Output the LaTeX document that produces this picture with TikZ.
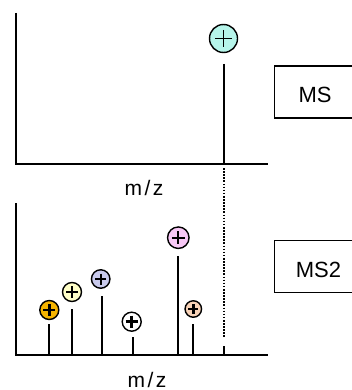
\documentclass[tikz,border=0pt]{standalone}
\usepackage{fontspec}
\setmainfont{Liberation Sans}
\usetikzlibrary{calc}

\definecolor{ioncyan}{HTML}{B6F5EA}
\definecolor{ionorange}{HTML}{F5B400}
\definecolor{ionyellow}{HTML}{FFFFC8}
\definecolor{ionlavender}{HTML}{C9CAEC}
\definecolor{ionpink}{HTML}{F8C8F6}
\definecolor{ionpeach}{HTML}{F8D3B8}

\tikzset{
  axis/.style={line width=2pt},
  peak/.style={line width=1.8pt},
  ion/.style={circle, draw, line width=1.4pt, inner sep=0pt, minimum size=#1},
  plusmark/.style={line width=#1},
  specbox/.style={draw, line width=1.3pt, minimum width=82pt, minimum height=52pt,
                  anchor=north west, inner sep=0pt},
  boxtext/.style={font=\fontsize{22}{22}\selectfont, anchor=base},
  axtext/.style={font=\fontsize{21}{21}\selectfont, anchor=base}
}

% a plus sign drawn at the centre of an ion node
\newcommand{\ionplus}[3]{%
  \draw[plusmark=#3] ($(#1.center)+(-#2,0)$) -- ($(#1.center)+(#2,0)$);
  \draw[plusmark=#3] ($(#1.center)+(0,-#2)$) -- ($(#1.center)+(0,#2)$);
}

\begin{document}
\begin{tikzpicture}[x=1pt,y=-1pt]
\clip (0,0) rectangle (352,390);
\fill[white] (0,0) rectangle (352,390);

% ---------- MS spectrum ----------
\coordinate (t-top) at (16,13);
\coordinate (t-org) at (16,163.5);
\coordinate (t-end) at (268,163.5);
\draw[axis] (t-top) -- (t-org) -- (t-end);

\coordinate (p0-top) at (224,64);
\coordinate (p0-bot) at (224,163.5);
\draw[peak] (p0-top) -- (p0-bot);
\node[ion=28pt, fill=ioncyan] (i0) at (223.5,38.5) {};
\ionplus{i0}{8.5}{1.6pt}

\node[axtext] (mz1) at (144,195) {m\hspace{2.5pt}/\hspace{2.5pt}z};

\node[specbox] (ms) at (273.5,65.5) {};
\node[boxtext] (mstxt) at (315,103) {MS};

% precursor selection line
\coordinate (sel-top) at (224,168);
\coordinate (sel-bot) at (224,337);
\draw[line width=2.2pt, dash pattern=on 1.6pt off 1.5pt] (sel-top) -- (sel-bot);

% ---------- MS2 spectrum ----------
\coordinate (b-top) at (16,203);
\coordinate (b-org) at (16,355);
\coordinate (b-end) at (268,355);
\draw[axis] (b-top) -- (b-org) -- (b-end);

\coordinate (q1-top) at (49,324);   \coordinate (q1-bot) at (49,355);
\coordinate (q2-top) at (72,309);   \coordinate (q2-bot) at (72,355);
\coordinate (q3-top) at (102,296);  \coordinate (q3-bot) at (102,355);
\coordinate (q4-top) at (133,337);  \coordinate (q4-bot) at (133,355);
\coordinate (q5-top) at (178,256);  \coordinate (q5-bot) at (178,355);
\coordinate (q6-top) at (193,324);  \coordinate (q6-bot) at (193,355);
\coordinate (q7-top) at (224,346);  \coordinate (q7-bot) at (224,355);

\draw[line width=2.8pt] (q1-top) -- (q1-bot);
\draw[peak] (q2-top) -- (q2-bot);
\draw[peak] (q3-top) -- (q3-bot);
\draw[peak] (q4-top) -- (q4-bot);
\draw[peak] (q5-top) -- (q5-bot);
\draw[peak] (q6-top) -- (q6-bot);
\draw[peak] (q7-top) -- (q7-bot);

\node[ion=19pt, fill=ionorange]   (i1) at (49.3,310) {};
\node[ion=19pt, fill=ionyellow]   (i2) at (72,292) {};
\node[ion=18.5pt, fill=ionlavender] (i3) at (100.7,279) {};
\node[ion=19pt, fill=white]       (i4) at (131.7,321.7) {};
\node[ion=21.5pt, fill=ionpink]   (i5) at (178.3,237.7) {};
\node[ion=16.5pt, fill=ionpeach]  (i6) at (193.3,309) {};

\ionplus{i1}{6}{2.8pt}
\ionplus{i2}{6}{2.8pt}
\ionplus{i3}{5.5}{2.2pt}
\ionplus{i4}{6}{2.8pt}
\ionplus{i5}{6.5}{2pt}
\ionplus{i6}{5}{2.4pt}

\node[axtext] (mz2) at (147,387) {m\hspace{2.5pt}/\hspace{2.5pt}z};

\node[specbox] (ms2) at (274,239.5) {};
\node[boxtext] (ms2txt) at (318.5,277) {MS2};
\end{tikzpicture}
\end{document}
